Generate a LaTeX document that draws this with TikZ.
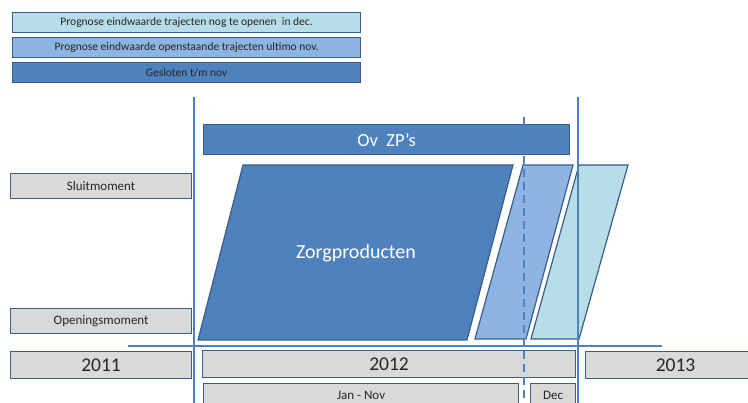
\documentclass[tikz,border=0pt]{standalone}
\usepackage{fontspec}
\setmainfont{Carlito}
\usepackage{xcolor}
\usetikzlibrary{positioning}

\definecolor{zpdark}{HTML}{4F81BD}
\definecolor{zpmid}{HTML}{8DB4E2}
\definecolor{zplight}{HTML}{B7DEE8}
\definecolor{zpedge}{HTML}{385D8A}
\definecolor{zpgrey}{HTML}{D9D9D9}
\definecolor{zptext}{HTML}{262626}

\begin{document}
\begin{tikzpicture}[
    x=1pt, y=-1pt,
    legbox/.style={
        draw=zpedge,
        line width=1.2pt,
        anchor=north west,
        inner sep=0pt,
        minimum width=348pt,
        minimum height=20pt,
        text=zptext,
        font=\fontsize{11.5}{13}\selectfont
    },
    greybox/.style={
        draw=zpedge,
        fill=zpgrey,
        line width=1.2pt,
        anchor=north west,
        inner sep=0pt,
        minimum height=25pt,
        text=zptext,
        font=\fontsize{13}{15}\selectfont
    },
    yearbox/.style={greybox, minimum height=27pt, font=\fontsize{19.5}{21}\selectfont},
    maandbox/.style={greybox, minimum height=23pt, font=\fontsize{13}{15}\selectfont},
    ploeg/.style={draw=zpedge, line width=1.2pt},
    tijdlijn/.style={draw=zpdark, line width=2pt}
]
\useasboundingbox (0,0) rectangle (748,403);

% legenda
\node[legbox, fill=zplight] (legopen) at (12,12) {Prognose eindwaarde trajecten nog te openen\ \ in dec.};
\node[legbox, fill=zpmid] (legstaand) at (12,37) {Prognose eindwaarde openstaande trajecten ultimo nov.};
\node[legbox, fill=zpdark] (leggesl) at (12,62) {Gesloten t/m nov};

% momenten
\node[greybox, minimum width=181pt] (sluit) at (10,173) {Sluitmoment};
\node[greybox, minimum width=181pt] (opening) at (10,308) {Openingsmoment};

% jaren
\node[yearbox, minimum width=181pt] (j2011) at (10,351) {2011};
\node[yearbox, minimum width=373pt] (j2012) at (202,350) {2012};
\node[yearbox, minimum width=180pt] (j2013) at (585,351) {2013};
\node[maandbox, minimum width=315pt] (jannov) at (203,383) {Jan - Nov};
\node[maandbox, minimum width=45pt] (dec) at (530,383) {Dec};

% Ov ZP's
\node[draw=zpedge, fill=zpdark, line width=1.2pt, anchor=north west, inner sep=0pt,
      minimum width=366pt, minimum height=30pt, text=white,
      font=\fontsize{18.5}{20}\selectfont] (ovzp) at (203,124) {Ov\ \ ZP’s};

% parallellogrammen
\draw[ploeg, fill=zpdark] (198,340) -- (243,165) -- (513,165) -- (467,340) -- cycle;
\node[text=white, font=\fontsize{20}{22}\selectfont] (zorg) at (356,253) {Zorgproducten};
\draw[ploeg, fill=zpmid] (475,339) -- (523,165) -- (573,165) -- (526,339) -- cycle;
\draw[ploeg, fill=zplight] (531,339) -- (579,165) -- (628,165) -- (579,339) -- cycle;

% tijdlijnen
\coordinate (linkstop) at (194,97);
\coordinate (linksbodem) at (194,403);
\coordinate (rechtstop) at (578,97);
\coordinate (rechtsbodem) at (578,403);
\coordinate (dectop) at (524,117);
\coordinate (decbodem) at (524,403);
\coordinate (asbegin) at (128,346);
\coordinate (aseinde) at (662,346);
\draw[tijdlijn] (linkstop) -- (linksbodem);
\draw[tijdlijn] (rechtstop) -- (rechtsbodem);
\draw[tijdlijn] (asbegin) -- (aseinde);
\draw[tijdlijn, dash pattern=on 8pt off 5pt] (dectop) -- (decbodem);

\end{tikzpicture}
\end{document}
